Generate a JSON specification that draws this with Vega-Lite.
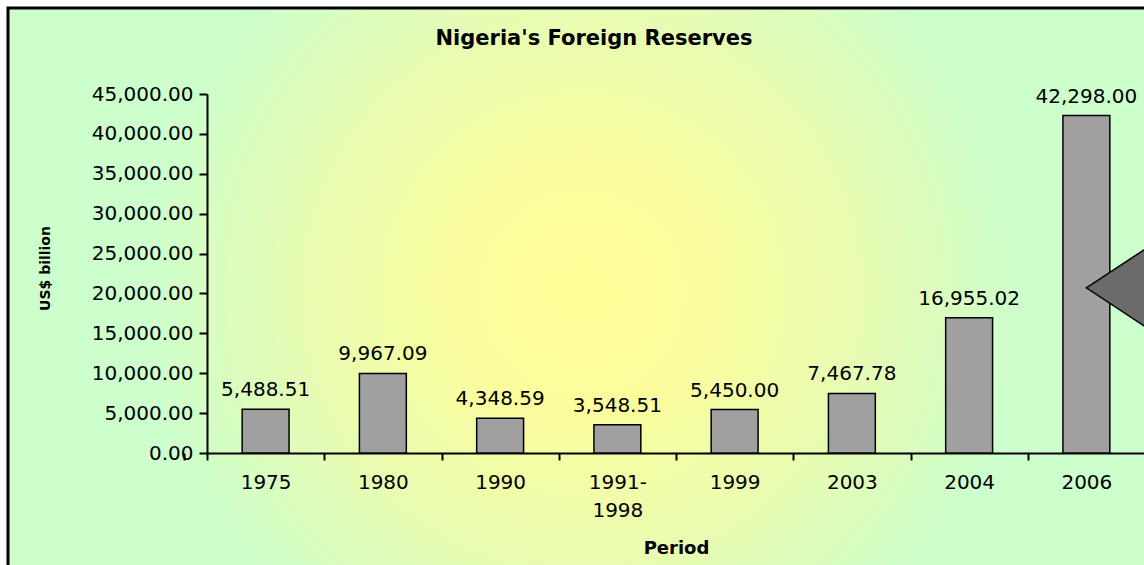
{
  "$schema": "https://vega.github.io/schema/vega-lite/v6.json",
  "width": 1172,
  "height": 570,
  "autosize": {"type": "none"},
  "padding": {"left": 8, "top": 8, "right": -36, "bottom": -13},
  "background": "white",
  "title": {
    "text": "Nigeria's Foreign Reserves",
    "anchor": "middle",
    "frame": "group",
    "offset": -41,
    "font": "DejaVu Sans",
    "fontSize": 21,
    "fontWeight": "bold",
    "color": "black"
  },
  "datasets": {
    "reserves": [
      {"period": "1975", "value": 5488.51},
      {"period": "1980", "value": 9967.09},
      {"period": "1990", "value": 4348.59},
      {"period": "1991-1998", "value": 3548.51},
      {"period": "1999", "value": 5450.00},
      {"period": "2003", "value": 7467.78},
      {"period": "2004", "value": 16955.02},
      {"period": "2006", "value": 42298.00}
    ],
    "pointer": [
      {"period": "2006", "value": 20700}
    ]
  },
  "layer": [
    {
      "data": {"name": "reserves"},
      "mark": {"type": "bar", "fill": "#a0a0a0", "stroke": "black", "strokeWidth": 1.5},
      "encoding": {
        "x": {
          "field": "period",
          "type": "nominal",
          "sort": null,
          "scale": {
            "domain": ["1975", "1980", "1990", "1991-1998", "1999", "2003", "2004", "2006"],
            "range": [199, 1137],
            "paddingInner": 0.6,
            "paddingOuter": 0.3
          },
          "axis": {
            "orient": "bottom",
            "offset": -125,
            "tickOffset": -58.6,
            "labelOffset": 58.6,
            "tickExtra": true,
            "tickSize": 7,
            "tickWidth": 2,
            "tickColor": "black",
            "domainColor": "black",
            "domainWidth": 2,
            "labelAngle": 0,
            "labelPadding": 12,
            "labelLineHeight": 28,
            "labelFontSize": 20,
            "labelExpr": "datum.label == '1991-1998' ? ['1991-', '1998'] : datum.label",
            "title": "Period",
            "titleFontSize": 18,
            "titleFontWeight": "bold",
            "titlePadding": 19
          }
        },
        "y": {
          "field": "value",
          "type": "quantitative",
          "scale": {"domain": [0, 45000], "range": [445, 86], "nice": false, "zero": true},
          "axis": {
            "orient": "left",
            "offset": -199,
            "values": [0, 5000, 10000, 15000, 20000, 25000, 30000, 35000, 40000, 45000],
            "format": ",.2f",
            "grid": false,
            "tickSize": 8,
            "tickWidth": 2,
            "tickColor": "black",
            "domainColor": "black",
            "domainWidth": 2,
            "labelPadding": 6,
            "labelFontSize": 20,
            "title": "US$ billion",
            "titleFontSize": 14,
            "titleFontWeight": "bold",
            "titleAngle": -90,
            "titleAlign": "center",
            "titleBaseline": "middle",
            "titleX": -162,
            "titleY": 260
          }
        }
      }
    },
    {
      "data": {"name": "reserves"},
      "mark": {"type": "text", "baseline": "bottom", "dy": -9, "font": "DejaVu Sans", "fontSize": 20, "color": "black"},
      "encoding": {
        "x": {"field": "period", "type": "nominal", "sort": null},
        "y": {"field": "value", "type": "quantitative"},
        "text": {"field": "value", "type": "quantitative", "format": ",.2f"}
      }
    },
    {
      "data": {"name": "pointer"},
      "mark": {
        "type": "point",
        "shape": "M0,0L1,-0.66L1,0.66Z",
        "size": 57600,
        "filled": true,
        "fill": "#6b6b6b",
        "stroke": "black",
        "strokeWidth": 1.5,
        "opacity": 1
      },
      "encoding": {
        "x": {"field": "period", "type": "nominal", "sort": null},
        "y": {"field": "value", "type": "quantitative"}
      }
    }
  ],
  "config": {
    "view": {
      "fill": {
        "gradient": "radial",
        "x1": 0.49, "y1": 0.5, "r1": 0,
        "x2": 0.49, "y2": 0.5, "r2": 0.5,
        "stops": [
          {"offset": 0, "color": "#ffff99"},
          {"offset": 0.2, "color": "#fbfd9c"},
          {"offset": 0.5, "color": "#e6fcb4"},
          {"offset": 0.75, "color": "#ccffcc"},
          {"offset": 1, "color": "#ccffcc"}
        ]
      },
      "stroke": "black",
      "strokeWidth": 3
    },
    "axis": {
      "labelFont": "DejaVu Sans",
      "labelFontSize": 19,
      "labelColor": "black",
      "titleFont": "DejaVu Sans",
      "titleColor": "black"
    }
  }
}
